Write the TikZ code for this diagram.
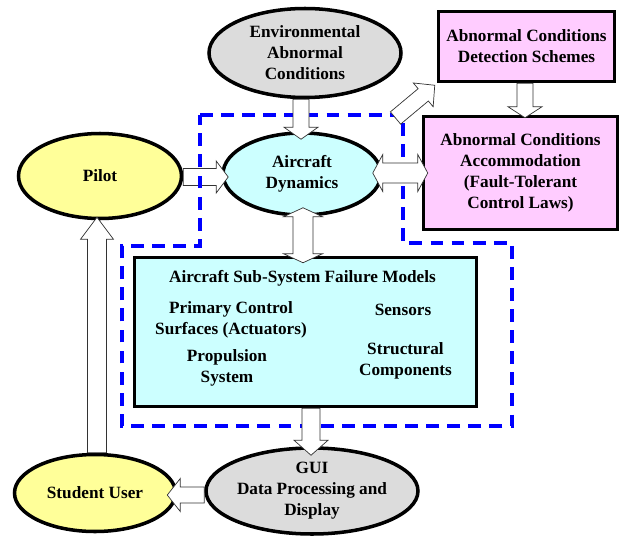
\documentclass[tikz,border=0pt]{standalone}
\usepackage{fontspec}
\setmainfont{Liberation Serif}
\usetikzlibrary{shapes.geometric,calc}

\definecolor{envgray}{HTML}{DCDCDC}
\definecolor{dyncyan}{HTML}{CCFFFF}
\definecolor{pilotyellow}{HTML}{FFFF99}
\definecolor{schemepink}{HTML}{FFCCFF}

% one pixel of the layout
\newcommand{\pxu}{0.03cm}

% block arrow: half shaft, half head, head length, from, to
\newcommand{\blockarr}[5]{%
  \coordinate (ba-s) at #4;
  \coordinate (ba-e) at #5;
  \coordinate (ba-h) at ($(ba-e)!#3*\pxu!(ba-s)$);
  \draw[blockarrow] ($(ba-s)!#1*\pxu!90:(ba-e)$) -- ($(ba-h)!#1*\pxu!90:(ba-e)$)
    -- ($(ba-h)!#2*\pxu!90:(ba-e)$) -- (ba-e) -- ($(ba-h)!#2*\pxu!-90:(ba-e)$)
    -- ($(ba-h)!#1*\pxu!-90:(ba-e)$) -- ($(ba-s)!#1*\pxu!-90:(ba-e)$) -- cycle;
}
% same, with a head at both ends
\newcommand{\dblockarr}[5]{%
  \coordinate (ba-s) at #4;
  \coordinate (ba-e) at #5;
  \coordinate (ba-h) at ($(ba-e)!#3*\pxu!(ba-s)$);
  \coordinate (ba-t) at ($(ba-s)!#3*\pxu!(ba-e)$);
  \draw[blockarrow] (ba-s) -- ($(ba-t)!#2*\pxu!90:(ba-e)$) -- ($(ba-t)!#1*\pxu!90:(ba-e)$)
    -- ($(ba-h)!#1*\pxu!90:(ba-e)$) -- ($(ba-h)!#2*\pxu!90:(ba-e)$) -- (ba-e)
    -- ($(ba-h)!#2*\pxu!-90:(ba-e)$) -- ($(ba-h)!#1*\pxu!-90:(ba-e)$)
    -- ($(ba-t)!#1*\pxu!-90:(ba-e)$) -- ($(ba-t)!#2*\pxu!-90:(ba-e)$) -- cycle;
}

\tikzset{
  txt/.style={font=\bfseries\fontsize{14.7}{17.9}\selectfont, align=center, inner sep=0pt},
  ellnode/.style={txt, ellipse, draw, line width=3pt},
  boxnode/.style={txt, rectangle, draw, line width=3pt},
  blockarrow/.style={draw=black!80, fill=white, line width=0.6pt, line join=miter},
  dashframe/.style={blue, line width=3.3pt, dash pattern=on 11pt off 7pt}
}

\begin{document}
\begin{tikzpicture}[x=0.03cm, y=-0.03cm]
  \useasboundingbox (0,0) rectangle (623,535);

  \node[ellnode, fill=envgray, minimum width=192*\pxu, minimum height=89*\pxu] (env) at (305,53) {Environmental\\Abnormal\\Conditions};
  \node[ellnode, fill=dyncyan, minimum width=158*\pxu, minimum height=82*\pxu] (ad) at (302,174) {Aircraft\\Dynamics};
  \node[ellnode, fill=pilotyellow, minimum width=163*\pxu, minimum height=85*\pxu] (pilot) at (100,176) {Pilot};
  \node[boxnode, fill=schemepink, minimum width=176*\pxu, minimum height=70*\pxu] (detect) at (526.5,46.5) {Abnormal Conditions\\Detection Schemes};
  \node[boxnode, fill=schemepink, minimum width=194*\pxu, minimum height=113*\pxu] (accom) at (520.5,173) {Abnormal Conditions\\Accommodation\\(Fault-Tolerant\\Control Laws)};
  \node[boxnode, fill=dyncyan, minimum width=342*\pxu, minimum height=149*\pxu] (failmod) at (305.5,332) {};
  \node[ellnode, fill=envgray, minimum width=190*\pxu, minimum height=86*\pxu] (gui) at (312,491) {GUI\\Data Processing and\\Display};
  \node[ellnode, fill=pilotyellow, minimum width=161*\pxu, minimum height=77*\pxu] (student) at (95,493) {Student User};

  % failure models
  \node[txt] (fmtitle) at (302.5,278) {Aircraft Sub-System Failure Models};
  \node[txt] (actu) at (231,320) {Primary Control\\Surfaces (Actuators)};
  \node[txt] (sens) at (403,310) {Sensors};
  \node[txt] (prop) at (227,368) {Propulsion\\System};
  \node[txt] (struct) at (405.5,361) {Structural\\Components};

  % pilot input goes under the frame
  \blockarr{8.5}{16}{12}{($(pilot.east)+(0,1)$)}{($(ad.west)+(7,3)$)}

  % simulation frame
  \draw[dashframe] (200,115) -- (403,115) -- (403,243) -- (512,243) -- (512,426)
    -- (122,426) -- (122,246) -- (200,246) -- cycle;

  % block arrows
  \coordinate (diagtail) at (395.5,118);
  \blockarr{8}{17}{12}{($(env.south)+(-4,0)$)}{($(ad.north)+(-1,8)$)}
  \dblockarr{10}{18.5}{10}{($(ad.east)+(-10,-1)$)}{($(accom.west)+(6,0)$)}
  \blockarr{8}{15.5}{15}{(diagtail)}{($(detect.south west)+(-2,2)$)}
  \blockarr{8}{17}{11}{($(detect.south)+(-1.5,0)$)}{($(accom.north)+(4.5,3)$)}
  \dblockarr{10}{19.5}{9}{($(ad.south)+(1,-9)$)}{($(failmod.north)+(-2.5,7)$)}
  \blockarr{9}{17}{15}{($(failmod.south)+(5.5,0)$)}{($(gui.north)+(-1,9)$)}
  \blockarr{8}{16.5}{13}{($(gui.west)+(0,4)$)}{($(student.east)+(-10,2)$)}
  \blockarr{9.5}{16.5}{22}{($(student.north)+(2,0)$)}{($(pilot.south)+(-3,-3)$)}
\end{tikzpicture}
\end{document}
